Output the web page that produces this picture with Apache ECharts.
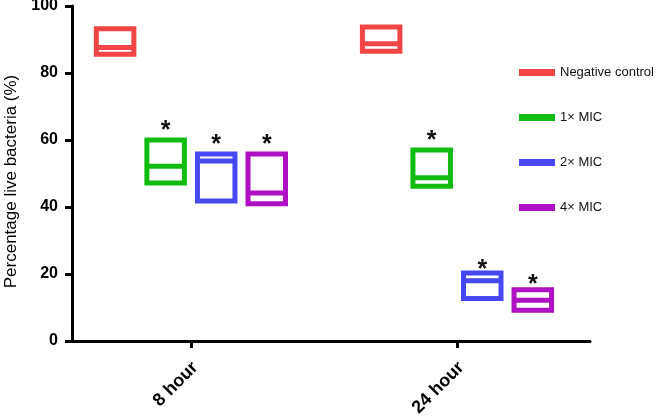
<!DOCTYPE html>
<html>
<head>
<meta charset="utf-8">
<script src="https://cdn.jsdelivr.net/npm/echarts@6/dist/echarts.min.js"></script>
<style>html,body{margin:0;padding:0;background:#fff;}#c{width:661px;height:416px;}</style>
</head>
<body>
<div id="c"></div>
<script>
const categories = ['8 hour', '24 hour'];
const seriesNames = ['Negative control', '1× MIC', '2× MIC', '4× MIC'];
const seriesColors = ['#F24545', '#10BC10', '#4848F2', '#B010C4'];

// floating bars: low, line (median), high, and significance star position
const negLow  = [85.6, 86.5];
const negMid  = [87.6, 88.7];
const negHigh = [93.2, 93.7];
const negStar = [null, null];

const mic1Low  = [47.2, 46.2];
const mic1Mid  = [52.2, 48.7];
const mic1High = [60.0, 57.0];
const mic1Star = [64.0, 61.3];

const mic2Low  = [41.8, 12.7];
const mic2Mid  = [53.7, 18.0];
const mic2High = [55.8, 20.3];
const mic2Star = [60.1, 22.7];

const mic4Low  = [41.0, 9.2];
const mic4Mid  = [44.2, 12.2];
const mic4High = [55.8, 15.3];
const mic4Star = [59.9, 18.2];

const yMin = 0, yMax = 100, yInterval = 20;

const groups = [
  [negLow, negMid, negHigh, negStar],
  [mic1Low, mic1Mid, mic1High, mic1Star],
  [mic2Low, mic2Mid, mic2High, mic2Star],
  [mic4Low, mic4Mid, mic4High, mic4Star]
];

const FONT = 'Liberation Sans, Arial, sans-serif';
const chart = echarts.init(document.getElementById('c'), null, {renderer: 'canvas'});

function renderItem(params, api) {
  const si = params.seriesIndex;
  const cat = api.value(0);
  const unit = api.size([1, 0])[0];
  const step = unit * 0.19;
  const w = unit * 0.141;
  const base = api.coord([cat, 0])[0];
  const cx = base + (si - 1.5) * step;
  const yLow = api.coord([cat, api.value(1)])[1];
  const yMid = api.coord([cat, api.value(2)])[1];
  const yHigh = api.coord([cat, api.value(3)])[1];
  const color = seriesColors[si];
  const children = [
    {type: 'rect', shape: {x: cx - w / 2, y: yHigh, width: w, height: yLow - yHigh},
     style: {fill: '#fff', stroke: color, lineWidth: 5}},
    {type: 'line', shape: {x1: cx - w / 2, y1: yMid, x2: cx + w / 2, y2: yMid},
     style: {stroke: color, lineWidth: 5}}
  ];
  const star = api.value(4);
  if (star != null && !isNaN(star)) {
    const ys = api.coord([cat, star])[1];
    children.push({type: 'text', x: cx, y: ys + 5,
      style: {text: '*', fill: '#111', font: 'bold 25px ' + FONT, align: 'center', verticalAlign: 'middle'}});
  }
  return {type: 'group', children: children};
}

const series = groups.map((g, si) => ({
  name: seriesNames[si],
  type: 'custom',
  renderItem: renderItem,
  itemStyle: {color: seriesColors[si]},
  encode: {x: 0, y: [1, 2, 3]},
  data: categories.map((c, ci) => [ci, g[0][ci], g[1][ci], g[2][ci], g[3][ci] == null ? NaN : g[3][ci]])
}));

chart.setOption({
  animation: false,
  backgroundColor: '#fff',
  grid: {left: 72, right: 71, top: 6, bottom: 75, containLabel: false, outerBoundsMode: 'none'},
  legend: {
    orient: 'vertical', left: 519, top: 66, padding: 0,
    icon: 'rect', itemWidth: 36, itemHeight: 7, itemGap: 32,
    textStyle: {fontFamily: FONT, fontSize: 13, color: '#111'},
    data: seriesNames
  },
  xAxis: {
    type: 'value', min: -0.447, max: 1.5,
    splitLine: {show: false},
    axisLine: {show: true, onZero: false, lineStyle: {color: '#000', width: 3}},
    axisTick: {show: true, customValues: [0, 1], length: 7, lineStyle: {color: '#000', width: 3}},
    axisLabel: {
      show: true, customValues: [0, 1], rotate: 45, margin: 28, padding: [0, -6, 0, 0],
      formatter: v => categories[Math.round(v)],
      fontFamily: FONT, fontSize: 18, fontWeight: 'bold', color: '#000'
    }
  },
  yAxis: {
    type: 'value', min: yMin, max: yMax, interval: yInterval,
    name: 'Percentage live bacteria (%)', nameLocation: 'middle', nameGap: 52,
    nameTextStyle: {fontFamily: FONT, fontSize: 17, color: '#000', padding: [0, 16, 0, 0]},
    splitLine: {show: false},
    axisLine: {show: true, onZero: false, lineStyle: {color: '#000', width: 3}},
    axisTick: {show: true, length: 7, lineStyle: {color: '#000', width: 3}},
    axisLabel: {margin: 14, fontFamily: FONT, fontSize: 16, fontWeight: 'bold', color: '#000'}
  },
  series: series
});
</script>
</body>
</html>
